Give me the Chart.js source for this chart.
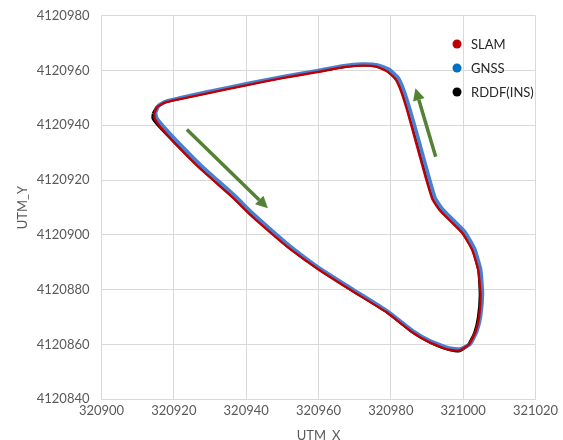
<!DOCTYPE html>
<html>
<head>
<meta charset="utf-8">
<script src="https://cdn.jsdelivr.net/npm/chart.js@4"></script>
<style>
  html, body { margin: 0; padding: 0; background: #fff; }
  canvas { display: block; }
</style>
</head>
<body>
<canvas id="myChart" width="563" height="440"></canvas>
<script>
const seriesNames = ['SLAM', 'GNSS', 'RDDF(INS)']

const xTicks = [320900, 320920, 320940, 320960, 320980, 321000, 321020]
const yTicks = [4120840, 4120860, 4120880, 4120900, 4120920, 4120940, 4120960, 4120980]

// [x, y] in UTM metres
const slamXY = [
  [320914.6, 4120944.5], [320915.5, 4120946.8], [320917.5, 4120948.3], [320921, 4120949.4],
  [320929, 4120951.6], [320940, 4120954.6], [320950, 4120957.2], [320960, 4120959.5],
  [320967, 4120961.2], [320972, 4120961.8], [320976, 4120961.4], [320979, 4120959.6],
  [320981.3, 4120956.8], [320982.8, 4120952.5], [320984.5, 4120945.5], [320987, 4120933.5],
  [320989.5, 4120921.5], [320991.5, 4120913], [320993.5, 4120909], [320996.5, 4120905],
  [320999.8, 4120900.6], [321002.5, 4120894.5], [321004.2, 4120887], [321004.8, 4120878],
  [321004.4, 4120870], [321003.4, 4120864.5], [321001.6, 4120860], [320999, 4120857.8],
  [320996, 4120858.1], [320991, 4120860.6], [320986, 4120864.4], [320979, 4120871.6],
  [320969, 4120879.8], [320960, 4120887.4], [320952, 4120895], [320947.2, 4120900.3],
  [320941, 4120907.5], [320936.4, 4120913.5], [320927, 4120924.5], [320920, 4120933.8],
  [320916.2, 4120939.5], [320914.7, 4120942.5], [320914.6, 4120944.5]
]

const gnssXY = [
  [320914.9, 4120944.6], [320915.8, 4120947.2], [320918, 4120948.8], [320921.5, 4120949.9],
  [320929, 4120952.1], [320940, 4120955.1], [320950, 4120957.7], [320960, 4120960],
  [320967, 4120961.7], [320972, 4120962.3], [320976.3, 4120962], [320979.6, 4120960.3],
  [320982, 4120957.3], [320983.5, 4120953], [320985.2, 4120946], [320987.8, 4120934],
  [320990.3, 4120922], [320992.2, 4120913.5], [320994.2, 4120909.5], [320997.1, 4120905.6],
  [321000.4, 4120901.2], [321003.1, 4120895], [321004.8, 4120887.3], [321005.3, 4120878.5],
  [321004.8, 4120870.5], [321003.8, 4120865], [321002, 4120860.3], [320999.2, 4120858.3],
  [320996, 4120858.7], [320991, 4120861.2], [320986, 4120865], [320979, 4120872.2],
  [320969, 4120880.5], [320960, 4120888.1], [320952.3, 4120895.7], [320947.6, 4120901],
  [320941.5, 4120908.2], [320936.9, 4120914.2], [320927.6, 4120925.2], [320920.7, 4120934.4],
  [320916.8, 4120940], [320915.2, 4120942.8], [320914.9, 4120944.6]
]

const rddfXY = [
  [320914.3, 4120944.3], [320915.3, 4120946.6], [320917.5, 4120948.5], [320921, 4120949.6],
  [320929, 4120951.9], [320940, 4120954.9], [320950, 4120957.5], [320960, 4120959.8],
  [320967, 4120961.4], [320972, 4120962], [320976, 4120961.6], [320979.2, 4120959.9],
  [320981.6, 4120957], [320983.1, 4120952.6], [320984.9, 4120945.5], [320987.4, 4120933.6],
  [320989.9, 4120921.6], [320991.8, 4120913.2], [320993.8, 4120909.1], [320996.7, 4120905.2],
  [321000, 4120900.8], [321002.7, 4120894.6], [321004.3, 4120887], [321004.7, 4120878],
  [321004.2, 4120870], [321003.2, 4120864.4], [321001.4, 4120859.8], [320998.8, 4120857.6],
  [320995.8, 4120858.2], [320990.8, 4120860.9], [320985.8, 4120864.7], [320978.8, 4120872],
  [320968.8, 4120880.2], [320959.8, 4120887.8], [320951.9, 4120895.4], [320947.2, 4120900.7],
  [320941, 4120907.9], [320936.4, 4120913.9], [320927, 4120924.9], [320919.9, 4120934.2],
  [320915.8, 4120939.8], [320914.2, 4120942.6], [320914.3, 4120944.3]
]

// direction of travel arrows: [x0, y0, x1, y1] in data units
const arrows = [
  [320923.6, 4120938.5, 320946.0, 4120909.7],
  [320992.4, 4120928.5, 320986.8, 4120953.5]
]

const toPoints = list => list.map(p => ({ x: p[0], y: p[1] }))

const lineColors = ['#C00000', '#4A7FD0', '#000000']
const legendColors = ['#C00000', '#0070C0', '#000000']
const lineWidths = [2.3, 3.8, 3]
const FONT = 'Lato, "Open Sans", sans-serif'

const arrowPlugin = {
  id: 'arrows',
  afterDatasetsDraw (chart) {
    const { ctx, scales: { x, y } } = chart
    ctx.save()
    ctx.strokeStyle = '#548235'
    ctx.fillStyle = '#548235'
    ctx.lineWidth = 3.5
    arrows.forEach(a => {
      const x0 = x.getPixelForValue(a[0])
      const y0 = y.getPixelForValue(a[1])
      const x1 = x.getPixelForValue(a[2])
      const y1 = y.getPixelForValue(a[3])
      const ang = Math.atan2(y1 - y0, x1 - x0)
      const head = 12
      const bx = x1 - head * Math.cos(ang)
      const by = y1 - head * Math.sin(ang)
      ctx.beginPath()
      ctx.moveTo(x0, y0)
      ctx.lineTo(bx, by)
      ctx.stroke()
      ctx.beginPath()
      ctx.moveTo(x1, y1)
      ctx.lineTo(bx + 6 * Math.sin(ang), by - 6 * Math.cos(ang))
      ctx.lineTo(bx - 6 * Math.sin(ang), by + 6 * Math.cos(ang))
      ctx.closePath()
      ctx.fill()
    })
    ctx.restore()
  }
}

const legendPlugin = {
  id: 'insideLegend',
  afterDraw (chart) {
    const { ctx } = chart
    ctx.save()
    ctx.font = '13px ' + FONT
    ctx.textBaseline = 'middle'
    chart.data.datasets.forEach((ds, i) => {
      const cy = 44 + i * 24
      ctx.beginPath()
      ctx.fillStyle = legendColors[i]
      ctx.arc(457, cy, 4.5, 0, Math.PI * 2)
      ctx.fill()
      ctx.fillStyle = '#262626'
      ctx.fillText(ds.label, 471, cy + 1)
    })
    ctx.restore()
  }
}

const makeSet = (i, list) => ({
  label: seriesNames[i],
  data: toPoints(list),
  showLine: true,
  borderColor: lineColors[i],
  backgroundColor: lineColors[i],
  borderWidth: lineWidths[i],
  pointRadius: 0,
  tension: 0.15,
  borderJoinStyle: 'round'
})

const myChart = new Chart(document.getElementById('myChart'), {
  type: 'scatter',
  data: {
    datasets: [makeSet(0, slamXY), makeSet(1, gnssXY), makeSet(2, rddfXY)]
  },
  options: {
    responsive: false,
    animation: false,
    layout: {
      padding: { top: 15.7, right: 27.5, bottom: 0, left: 0 }
    },
    plugins: {
      legend: { display: false },
      tooltip: { enabled: false }
    },
    scales: {
      x: {
        type: 'linear',
        min: xTicks[0],
        max: xTicks[xTicks.length - 1],
        afterBuildTicks: scale => { scale.ticks = xTicks.map(v => ({ value: v })) },
        afterFit: scale => { scale.height = 40.7 },
        grid: { color: '#D9D9D9', drawTicks: false },
        border: { color: '#D9D9D9' },
        ticks: {
          color: '#595959',
          font: { family: FONT, size: 13 },
          padding: 4,
          maxRotation: 0,
          callback: v => String(v)
        },
        title: {
          display: true,
          text: 'UTM_X',
          color: '#595959',
          font: { family: FONT, size: 13 },
          padding: { top: 0, bottom: -4 }
        }
      },
      y: {
        type: 'linear',
        min: yTicks[0],
        max: yTicks[yTicks.length - 1],
        afterBuildTicks: scale => { scale.ticks = yTicks.map(v => ({ value: v })) },
        afterFit: scale => {
          scale.width = 101.5
          scale.paddingTop = 0
          scale.paddingBottom = 0
        },
        grid: { color: '#D9D9D9', drawTicks: false },
        border: { color: '#D9D9D9' },
        ticks: {
          color: '#595959',
          font: { family: FONT, size: 13 },
          padding: 12,
          callback: v => String(v)
        },
        title: {
          display: true,
          text: 'UTM_Y',
          color: '#595959',
          font: { family: FONT, size: 13 },
          padding: { top: 14.8, bottom: 0 }
        }
      }
    }
  },
  plugins: [arrowPlugin, legendPlugin]
})
</script>
</body>
</html>
